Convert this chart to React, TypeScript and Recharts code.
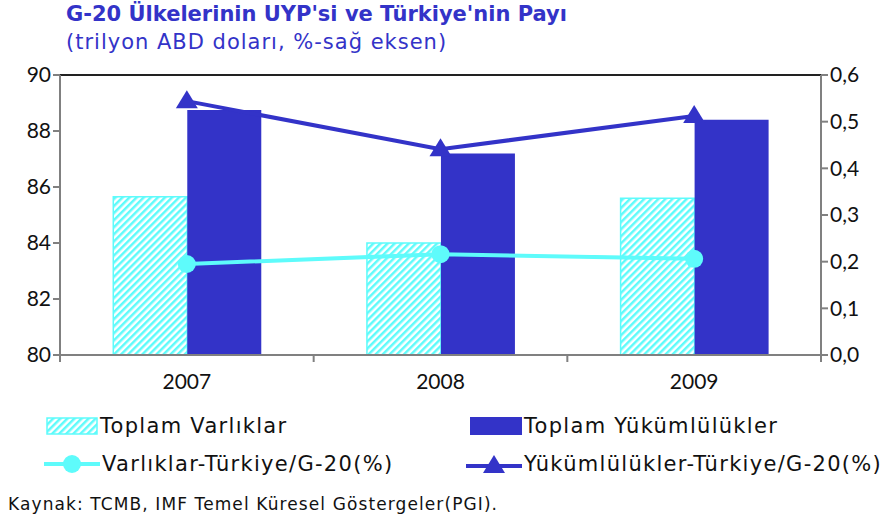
import React from 'react';
import { ComposedChart, Bar, Line, XAxis, YAxis, ReferenceLine } from 'recharts';

const years = ['2007', '2008', '2009'];
const toplamVarliklar = [85.65, 84.0, 85.6];
const toplamYukumlulukler = [88.75, 87.2, 88.4];
const varlikPay = [0.195, 0.216, 0.206];
const yukumlulukPay = [0.544, 0.441, 0.512];
const leftTicks = [80, 82, 84, 86, 88, 90];
const rightTicks = [0, 0.1, 0.2, 0.3, 0.4, 0.5, 0.6];

const data = years.map((y, i) => ({
  year: y,
  varlik: toplamVarliklar[i],
  yukum: toplamYukumlulukler[i],
  varlikPay: varlikPay[i],
  yukumPay: yukumlulukPay[i],
}));

const CYAN = '#5EFBFB';
const BLUE = '#3333C8';
const FONT = 'Lato, "DejaVu Sans", sans-serif';
const WIDE = '"DejaVu Sans", sans-serif';

const Triangle = (props: any) => {
  const { cx, cy } = props;
  if (cx == null || cy == null) return null;
  return <polygon points={`${cx},${cy - 11} ${cx - 11},${cy + 7} ${cx + 11},${cy + 7}`} fill={BLUE} />;
};

// year label plus the small separator marks between categories
const YearTick = (props: any) => {
  const { x, y, payload, index } = props;
  const half = payload && payload.offset ? payload.offset : 126.8;
  return (
    <g>
      <line x1={x - half} y1={y - 8} x2={x - half} y2={y - 1} stroke="#808080" strokeWidth={2} />
      {index === years.length - 1 && (
        <line x1={x + half} y1={y - 8} x2={x + half} y2={y - 1} stroke="#808080" strokeWidth={2} />
      )}
      <text x={x} y={y + 26} textAnchor="middle" fontSize={21} fill="#111" fontFamily={FONT}>
        {payload.value}
      </text>
    </g>
  );
};

function LegendItem({ kind, label }: { kind: string; label: string }) {
  let swatch: React.ReactNode = null;
  if (kind === 'hatch') {
    swatch = (
      <svg width={52} height={18}>
        <defs>
          <pattern id="hatchLeg" width="5" height="5" patternUnits="userSpaceOnUse" patternTransform="rotate(45)">
            <rect width="5" height="5" fill="#fff" />
            <rect width="2.5" height="5" fill={CYAN} />
          </pattern>
        </defs>
        <rect x={1} y={1} width={50} height={16} fill="url(#hatchLeg)" stroke={CYAN} strokeWidth={1.5} />
      </svg>
    );
  } else if (kind === 'bar') {
    swatch = (
      <svg width={52} height={18}>
        <rect x={0} y={0} width={52} height={18} fill={BLUE} />
      </svg>
    );
  } else if (kind === 'circle') {
    swatch = (
      <svg width={56} height={22}>
        <line x1={0} y1={11} x2={56} y2={11} stroke={CYAN} strokeWidth={4} />
        <circle cx={28} cy={11} r={9} fill={CYAN} />
      </svg>
    );
  } else {
    swatch = (
      <svg width={56} height={22}>
        <line x1={0} y1={13} x2={56} y2={13} stroke={BLUE} strokeWidth={4} />
        <polygon points="28,2 17,20 39,20" fill={BLUE} />
      </svg>
    );
  }
  return (
    <div style={{ display: 'flex', alignItems: 'center', gap: 2 }}>
      {swatch}
      <span style={{ fontSize: 21, letterSpacing: 1.3, color: '#111', fontFamily: WIDE }}>{label}</span>
    </div>
  );
}

export default function App() {
  return (
    <div style={{ position: 'absolute', left: 0, top: 0, width: 886, height: 520, background: '#fff', fontFamily: FONT }}>
      <div style={{ position: 'absolute', left: 66, top: 2, fontSize: 21, fontWeight: 700, color: BLUE, fontFamily: WIDE }}>
        G-20 Ülkelerinin UYP'si ve Türkiye'nin Payı
      </div>
      <div style={{ position: 'absolute', left: 66, top: 30, fontSize: 21, letterSpacing: 1, color: BLUE, fontFamily: WIDE }}>
        (trilyon ABD doları, %-sağ eksen)
      </div>
      <div style={{ position: 'absolute', left: 0, top: 0 }}>
        <ComposedChart
          width={886}
          height={400}
          data={data}
          margin={{ top: 75, right: 5, left: 10, bottom: 0 }}
          barCategoryGap="21%"
          barGap={0}
        >
          <defs>
            <pattern id="hatch" width="5" height="5" patternUnits="userSpaceOnUse" patternTransform="rotate(45)">
              <rect width="5" height="5" fill="#fff" />
              <rect width="2.5" height="5" fill={CYAN} />
            </pattern>
          </defs>
          <XAxis
            dataKey="year"
            axisLine={{ stroke: '#808080', strokeWidth: 2 }}
            tickLine={false}
            tick={<YearTick />}
            height={45}
          />
          <YAxis
            yAxisId="left"
            domain={[80, 90]}
            ticks={leftTicks}
            width={50}
            axisLine={{ stroke: '#808080', strokeWidth: 2 }}
            tickLine={{ stroke: '#808080', strokeWidth: 2 }}
            tickSize={7}
            tick={{ fontSize: 21, fill: '#111', fontFamily: FONT }}
            interval={0}
          />
          <YAxis
            yAxisId="right"
            orientation="right"
            domain={[0, 0.6]}
            ticks={rightTicks}
            width={60}
            axisLine={{ stroke: '#808080', strokeWidth: 2 }}
            tickLine={{ stroke: '#808080', strokeWidth: 2 }}
            tickSize={7}
            tick={{ fontSize: 21, fill: '#111', fontFamily: FONT }}
            tickFormatter={(v: number) => v.toFixed(1).replace('.', ',')}
            interval={0}
          />
          <ReferenceLine yAxisId="left" y={90} stroke="#222" strokeWidth={2} />
          <Bar yAxisId="left" dataKey="varlik" fill="url(#hatch)" stroke={CYAN} strokeWidth={1.5} isAnimationActive={false} />
          <Bar yAxisId="left" dataKey="yukum" fill={BLUE} isAnimationActive={false} />
          <Line
            yAxisId="right"
            dataKey="varlikPay"
            stroke={CYAN}
            strokeWidth={4}
            dot={{ r: 9, fill: CYAN, stroke: 'none' }}
            isAnimationActive={false}
          />
          <Line
            yAxisId="right"
            dataKey="yukumPay"
            stroke={BLUE}
            strokeWidth={4}
            dot={<Triangle />}
            isAnimationActive={false}
          />
        </ComposedChart>
      </div>
      <div style={{ position: 'absolute', left: 46, top: 414 }}>
        <LegendItem kind="hatch" label="Toplam Varlıklar" />
      </div>
      <div style={{ position: 'absolute', left: 470, top: 414 }}>
        <LegendItem kind="bar" label="Toplam Yükümlülükler" />
      </div>
      <div style={{ position: 'absolute', left: 44, top: 452 }}>
        <LegendItem kind="circle" label="Varlıklar-Türkiye/G-20(%)" />
      </div>
      <div style={{ position: 'absolute', left: 466, top: 452 }}>
        <LegendItem kind="triangle" label="Yükümlülükler-Türkiye/G-20(%)" />
      </div>
      <div style={{ position: 'absolute', left: 8, top: 494, fontSize: 17, letterSpacing: 1.1, color: '#111', fontFamily: WIDE }}>
        Kaynak: TCMB, IMF Temel Küresel Göstergeler(PGI).
      </div>
    </div>
  );
}
